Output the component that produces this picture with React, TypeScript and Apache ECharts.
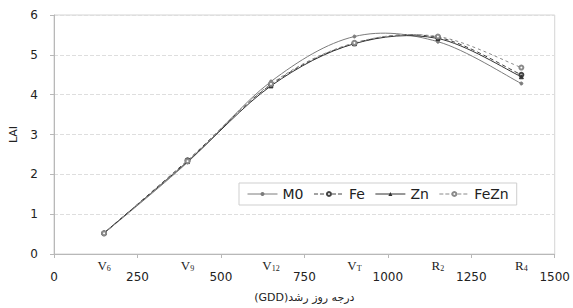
import React, { useEffect, useRef } from "react";
import * as echarts from "echarts";

const gdd = [150, 400, 650, 900, 1150, 1400];
const stageBase = ["V", "V", "V", "V", "R", "R"];
const stageSub = ["6", "9", "12", "T", "2", "4"];
const seriesNames = ["M0", "Fe", "Zn", "FeZn"];
const m0 = [0.52, 2.3, 4.33, 5.46, 5.33, 4.28];
const fe = [0.52, 2.35, 4.25, 5.29, 5.44, 4.5];
const zn = [0.53, 2.32, 4.22, 5.28, 5.41, 4.45];
const feZn = [0.52, 2.33, 4.27, 5.3, 5.46, 4.68];
const yTicks = [0, 1, 2, 3, 4, 5, 6];
const xName = "(GDD)درجه روز رشد";
const yName = "LAI";

export default function App() {
  const ref = useRef<HTMLDivElement>(null);
  useEffect(() => {
    document.body.style.margin = "0";
    const chart = echarts.init(ref.current!, null, { renderer: "svg" });
    const mk = (vals: number[]) => gdd.map((g, i) => [g, vals[i]]);
    const styles = [
      { data: m0, color: "#7c7c7c", type: "solid", dash: null, symbol: "circle", size: 3 },
      { data: fe, color: "#444", type: "dashed", dash: [4, 3], symbol: "emptyCircle", size: 4 },
      { data: zn, color: "#333", type: "solid", dash: null, symbol: "triangle", size: 4 },
      { data: feZn, color: "#8a8a8a", type: "dashed", dash: [3, 3], symbol: "emptyCircle", size: 4 },
    ];
    const markerSeries = styles.map((s, i) => ({
      name: seriesNames[i],
      type: "line",
      data: mk(s.data),
      symbol: s.symbol,
      symbolSize: s.size,
      showSymbol: true,
      color: s.color,
      lineStyle: { color: s.color, width: 1, type: s.type, opacity: 0 },
      itemStyle: { color: s.color, borderColor: s.color },
      z: 10 + i,
    }));
    const curveSeries = styles.map((s, si) => ({
      type: "custom",
      data: mk(s.data),
      encode: { x: 0, y: 1 },
      z: 3 + si,
      renderItem: (params: any, api: any) => {
        const i = params.dataIndex;
        const n = gdd.length;
        if (i >= n - 1) return null;
        const pt = (j: number) => {
          const k = Math.max(0, Math.min(n - 1, j));
          return api.coord([gdd[k], s.data[k]]);
        };
        const p0 = pt(i - 1), p1 = pt(i), p2 = pt(i + 1), p3 = pt(i + 2);
        const t = 6;
        return {
          type: "bezierCurve",
          shape: {
            x1: p1[0], y1: p1[1],
            x2: p2[0], y2: p2[1],
            cpx1: p1[0] + (p2[0] - p0[0]) / t,
            cpy1: p1[1] + (p2[1] - p0[1]) / t,
            cpx2: p2[0] - (p3[0] - p1[0]) / t,
            cpy2: p2[1] - (p3[1] - p1[1]) / t,
          },
          style: { stroke: s.color, fill: null, lineWidth: 1, lineDash: s.dash },
          silent: true,
        };
      },
    }));
    chart.setOption({
      animation: false,
      backgroundColor: "#fff",
      grid: { left: 54, right: 17, top: 15, bottom: 54, show: true, borderColor: "#d4d4d4", borderWidth: 1 },
      legend: {
        left: 239,
        top: 183,
        orient: "horizontal",
        backgroundColor: "#fff",
        borderColor: "#cfcfcf",
        borderWidth: 1,
        borderRadius: 0,
        padding: [4, 8, 4, 8],
        itemWidth: 30,
        itemHeight: 5,
        itemGap: 10,
        textStyle: { fontSize: 14, color: "#222", fontFamily: "DejaVu Sans" },
        data: seriesNames.map((nm, i) => ({
          name: nm,
          lineStyle: { opacity: 1, color: styles[i].color, width: 1, type: styles[i].type },
        })),
      },
      xAxis: [
        {
          type: "value",
          min: 0,
          max: 1500,
          interval: 250,
          name: xName,
          nameLocation: "middle",
          nameGap: 38,
          nameTextStyle: { fontSize: 11, color: "#222", fontFamily: "DejaVu Sans" },
          axisLine: { lineStyle: { color: "#b8b8b8" } },
          axisTick: { show: true, length: 4, lineStyle: { color: "#b8b8b8" } },
          axisLabel: { margin: 17, fontSize: 12, color: "#222", fontFamily: "DejaVu Sans", formatter: (v: number) => String(v) },
          splitLine: { show: false },
        },
        {
          type: "value",
          min: 0,
          max: 1500,
          position: "bottom",
          axisLine: { show: false },
          axisTick: { show: false },
          splitLine: { show: false },
          axisLabel: {
            show: true,
            customValues: gdd,
            margin: 4,
            formatter: (v: number) => {
              const i = gdd.indexOf(v);
              return i >= 0 ? `{b|${stageBase[i]}}{s|${stageSub[i]}}` : "";
            },
            rich: {
              b: { fontFamily: "Liberation Serif", fontSize: 13, color: "#222" },
              s: { fontFamily: "Liberation Serif", fontSize: 8, color: "#222", verticalAlign: "bottom", padding: [6, 0, 0, 0] },
            },
          },
        },
      ],
      yAxis: {
        type: "value",
        min: yTicks[0],
        max: yTicks[yTicks.length - 1],
        interval: 1,
        name: yName,
        nameLocation: "middle",
        nameGap: 28,
        nameTextStyle: { fontSize: 11, color: "#222", fontFamily: "DejaVu Sans" },
        axisLine: { show: true, lineStyle: { color: "#b8b8b8" } },
        axisTick: { show: true, length: 4, lineStyle: { color: "#b8b8b8" } },
        axisLabel: { margin: 16, fontSize: 12, color: "#222", fontFamily: "DejaVu Sans" },
        splitLine: { show: true, lineStyle: { color: "#dedede", type: "dashed" } },
      },
      series: [...markerSeries, ...curveSeries],
    });
    return () => chart.dispose();
  }, []);
  return <div ref={ref} style={{ width: 573, height: 308 }} />;
}
